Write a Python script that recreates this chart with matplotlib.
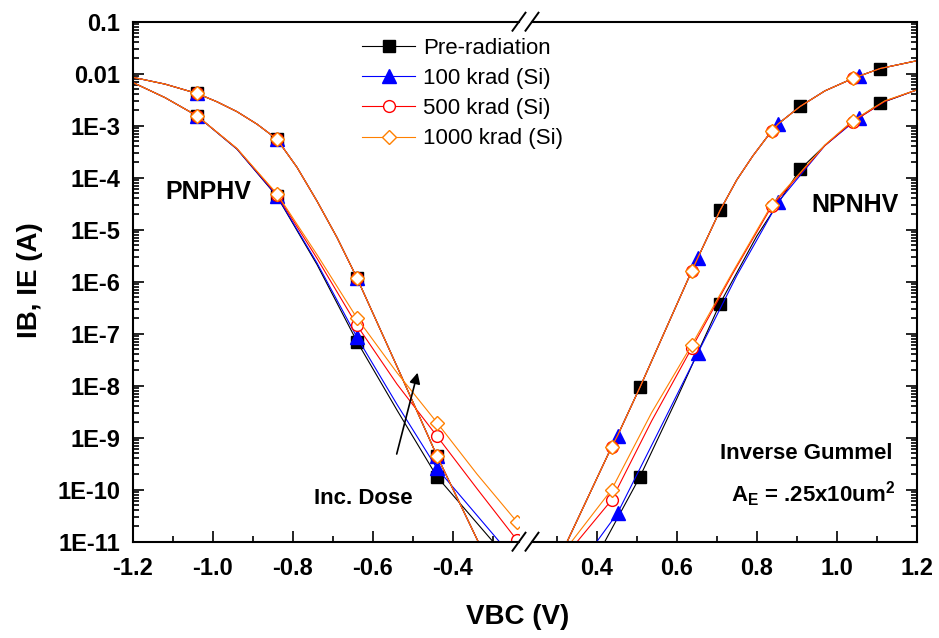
# Inverse Gummel plot, PNPHV / NPNHV, broken VBC axis
import numpy as np
import matplotlib
matplotlib.use('Agg')
import matplotlib.pyplot as plt
from matplotlib.lines import Line2D
from matplotlib.ticker import (FixedLocator, LogLocator, FuncFormatter,
                               MultipleLocator, FormatStrFormatter, NullFormatter)

# ---------------- data (log10 of current in A) ----------------
series = ['Pre-radiation', '100 krad (Si)', '500 krad (Si)', '1000 krad (Si)']

# PNPHV, upper curve (all doses overlap)
pnp_up_v = [-1.20, -1.12, -1.04, -0.99, -0.94, -0.89, -0.84, -0.79, -0.74, -0.69, -0.64,
            -0.54, -0.44, -0.337, -0.30]
pnp_up_log = [-2.07, -2.20, -2.38, -2.54, -2.73, -2.97, -3.26, -3.80, -4.45, -5.15, -5.93,
              -7.63, -9.35, -11.0, -11.6]

# PNPHV, lower curve per dose
pnp_lo_v = {
    'Pre-radiation':  [-1.20, -1.12, -1.04, -0.94, -0.84, -0.74, -0.64, -0.54, -0.44, -0.30],
    '100 krad (Si)':  [-1.20, -1.12, -1.04, -0.94, -0.84, -0.74, -0.64, -0.54, -0.44, -0.284],
    '500 krad (Si)':  [-1.20, -1.12, -1.04, -0.94, -0.84, -0.74, -0.64, -0.54, -0.44, -0.34, -0.24],
    '1000 krad (Si)': [-1.20, -1.12, -1.04, -0.94, -0.84, -0.74, -0.64, -0.54, -0.44, -0.34, -0.24],
}
pnp_lo_log = {
    'Pre-radiation':  [-2.17, -2.46, -2.81, -3.45, -4.36, -5.67, -7.15, -8.47, -9.75, -11.0],
    '100 krad (Si)':  [-2.17, -2.46, -2.81, -3.45, -4.35, -5.64, -7.07, -8.36, -9.59, -11.0],
    '500 krad (Si)':  [-2.17, -2.46, -2.81, -3.44, -4.33, -5.55, -6.84, -7.97, -8.97, -9.98, -10.97],
    '1000 krad (Si)': [-2.17, -2.46, -2.81, -3.44, -4.31, -5.48, -6.70, -7.75, -8.71, -9.70, -10.62],
}

# NPNHV, upper curve (all doses overlap)
npn_up_v = [0.30, 0.326, 0.437, 0.452, 0.508, 0.575, 0.637, 0.652, 0.708, 0.75, 0.79,
            0.837, 0.854, 0.908, 0.97, 1.04, 1.054, 1.108, 1.20]
npn_up_log = [-11.4, -11.0, -9.18, -8.96, -8.03, -6.87, -5.80, -5.55, -4.63, -4.04, -3.58,
              -3.10, -2.96, -2.63, -2.33, -2.09, -2.05, -1.90, -1.75]

# NPNHV, lower curve per dose
npn_lo_v = {
    'Pre-radiation':  [0.40, 0.42, 0.508, 0.60, 0.708, 0.80, 0.908, 0.97, 1.04, 1.108, 1.20],
    '100 krad (Si)':  [0.38, 0.40, 0.452, 0.552, 0.652, 0.75, 0.854, 0.97, 1.054, 1.12, 1.20],
    '500 krad (Si)':  [0.33, 0.351, 0.437, 0.537, 0.637, 0.737, 0.837, 0.97, 1.04, 1.12, 1.20],
    '1000 krad (Si)': [0.31, 0.337, 0.437, 0.537, 0.637, 0.737, 0.837, 0.97, 1.04, 1.12, 1.20],
}
npn_lo_log = {
    'Pre-radiation':  [-11.3, -11.0, -9.75, -8.25, -6.42, -5.12, -3.84, -3.38, -2.92, -2.57, -2.31],
    '100 krad (Si)':  [-11.3, -11.0, -10.45, -8.92, -7.38, -5.88, -4.46, -3.38, -2.85, -2.53, -2.31],
    '500 krad (Si)':  [-11.3, -11.0, -10.2, -8.68, -7.28, -5.88, -4.55, -3.38, -2.92, -2.53, -2.31],
    '1000 krad (Si)': [-11.3, -11.0, -10.0, -8.52, -7.22, -5.85, -4.52, -3.37, -2.90, -2.52, -2.31],
}

# voltages where symbols sit
pnp_marks = [-1.04, -0.84, -0.64, -0.44, -0.24]
npn_marks = {
    'Pre-radiation':  [0.508, 0.708, 0.908, 1.108],
    '100 krad (Si)':  [0.452, 0.652, 0.854, 1.054],
    '500 krad (Si)':  [0.437, 0.637, 0.837, 1.04],
    '1000 krad (Si)': [0.437, 0.637, 0.837, 1.04],
}

# ---------------- style ----------------
style = {
    'Pre-radiation':  dict(color='#000000', marker='s', ms=8, mfc='#000000'),
    '100 krad (Si)':  dict(color='#0000FF', marker='^', ms=9.5, mfc='#0000FF'),
    '500 krad (Si)':  dict(color='#FF0000', marker='o', ms=8.5, mfc='white'),
    '1000 krad (Si)': dict(color='#FF8000', marker='D', ms=7.3, mfc='white'),
}

plt.rcParams['font.family'] = 'Liberation Sans'
plt.rcParams['font.weight'] = 'bold'
plt.rcParams['axes.unicode_minus'] = False
plt.rcParams['mathtext.fontset'] = 'custom'
plt.rcParams['mathtext.rm'] = 'Liberation Sans:bold'
plt.rcParams['mathtext.bf'] = 'Liberation Sans:bold'
plt.rcParams['mathtext.it'] = 'Liberation Sans:bold'

W, H = 939, 638
fig = plt.figure(figsize=(W / 100, H / 100), dpi=100)


def box(x0, x1, y0=21.7, y1=541.7):
    return [x0 / W, 1 - y1 / H, (x1 - x0) / W, (y1 - y0) / H]


axL = fig.add_axes(box(133, 519))
axR = fig.add_axes(box(532, 917))


def draw(ax, v, logi, name, marks):
    st = style[name]
    v = np.array(v)
    cur = 10.0 ** np.array(logi)
    ax.plot(v, cur, color=st['color'], lw=0.8)
    idx = [int(np.argmin(np.abs(v - x))) for x in marks if np.isclose(v, x).any()]
    ax.plot(v[idx], cur[idx], ls='none', marker=st['marker'], ms=st['ms'],
            mfc=st['mfc'], mec=st['color'], mew=1.0)


for name in series:
    draw(axL, pnp_up_v, pnp_up_log, name, pnp_marks)
    draw(axL, pnp_lo_v[name], pnp_lo_log[name], name, pnp_marks)
    draw(axR, npn_up_v, npn_up_log, name, npn_marks[name])
    draw(axR, npn_lo_v[name], npn_lo_log[name], name, npn_marks[name])


def yfmt(val, pos):
    e = int(round(np.log10(val)))
    if e == -1:
        return '0.1'
    if e == -2:
        return '0.01'
    return '1E%d' % e


for ax in (axL, axR):
    ax.set_yscale('log')
    ax.set_ylim(1e-11, 0.1)
    ax.yaxis.set_major_locator(FixedLocator([10.0 ** e for e in range(-11, 0)]))
    ax.yaxis.set_minor_locator(LogLocator(base=10, subs=np.arange(2, 10), numticks=100))
    ax.yaxis.set_minor_formatter(NullFormatter())
    ax.xaxis.set_major_locator(MultipleLocator(0.2))
    ax.xaxis.set_minor_locator(MultipleLocator(0.1))
    ax.xaxis.set_major_formatter(FormatStrFormatter('%.1f'))
    for sp in ax.spines.values():
        sp.set_linewidth(1.5)
    ax.tick_params(which='both', direction='in', width=1.2, labelsize=17, top=False)
    ax.tick_params(which='major', length=8)
    ax.tick_params(which='minor', length=4)
    ax.tick_params(axis='x', pad=11)
    ax.tick_params(axis='y', pad=9)

axL.set_xlim(-1.2, -0.235)
axR.set_xlim(0.2383, 1.2)
axL.yaxis.set_major_formatter(FuncFormatter(yfmt))
axL.spines['right'].set_visible(False)
axR.spines['left'].set_visible(False)
axL.tick_params(axis='y', which='both', left=True, right=False)
axR.tick_params(axis='y', which='both', left=False, right=True, labelleft=False)

# axis break marks
for cx in (519, 532):
    for yy in (21.7, 541.7):
        fig.add_artist(Line2D([(cx - 6.5) / W, (cx + 6.5) / W],
                              [1 - (yy + 9) / H, 1 - (yy - 9) / H],
                              transform=fig.transFigure, color='black', lw=1.4))

# labels
fig.text(518 / W, 1 - 617 / H, 'VBC (V)', ha='center', va='center', fontsize=20)
fig.text(30 / W, 1 - 280 / H, 'IB, IE (A)', ha='center', va='center', fontsize=20,
         rotation=90)

fig.text(208 / W, 1 - 191.7 / H, 'PNPHV', ha='center', va='center', fontsize=18)
fig.text(855 / W, 1 - 205 / H, 'NPNHV', ha='center', va='center', fontsize=18)
fig.text(806.7 / W, 1 - 453.3 / H, 'Inverse Gummel', ha='center', va='center', fontsize=16)
fig.text(813 / W, 1 - 502 / H, r'A$_\mathbf{E}$ = .25x10um$^\mathbf{2}$', ha='center',
         va='baseline', fontsize=16)
fig.text(363 / W, 1 - 498.3 / H, 'Inc. Dose', ha='center', va='center', fontsize=16)
axL.annotate('', xy=(418.3, H - 370), xytext=(396, H - 456.7),
             xycoords='figure pixels', textcoords='figure pixels',
             arrowprops=dict(arrowstyle='-|>', color='black', lw=1.2, mutation_scale=16))

handles = [Line2D([], [], color=style[n]['color'], lw=0.8, marker=style[n]['marker'],
                  ms=style[n]['ms'], mfc=style[n]['mfc'], mec=style[n]['color'])
           for n in series]
fig.legend(handles, series, loc='upper left', bbox_to_anchor=(362 / W, 1 - 38 / H),
           frameon=False, prop=dict(size=16, weight='normal'), handlelength=2.4,
           labelspacing=0.41, handletextpad=0.36, borderpad=0, borderaxespad=0)

fig.savefig('out.png', dpi=100)
